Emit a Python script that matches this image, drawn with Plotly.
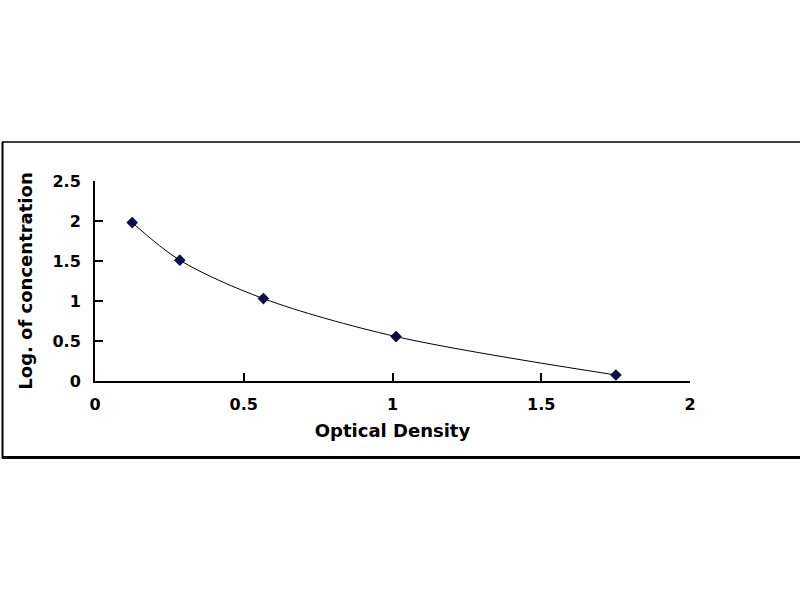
import plotly.graph_objects as go

# Data
optical_density = [0.125, 0.285, 0.566, 1.012, 1.751]
log_concentration = [1.98, 1.51, 1.03, 0.555, 0.075]

x_ticks = [0, 0.5, 1, 1.5, 2]
x_tick_labels = ["0", "0.5", "1", "1.5", "2"]
y_ticks = [0, 0.5, 1, 1.5, 2, 2.5]
y_tick_labels = ["0", "0.5", "1", "1.5", "2", "2.5"]

FONT = "DejaVu Sans, Arial, sans-serif"

fig = go.Figure()
fig.add_trace(go.Scatter(
    x=optical_density,
    y=log_concentration,
    mode="lines+markers",
    line=dict(color="black", width=1, shape="spline", smoothing=0.9),
    marker=dict(symbol="diamond", size=9, color="#0d0d4d"),
    showlegend=False,
))

# plot area: x 95..690, y 181..381 (px)
L, R, T, B = 95, 690, 181, 381
W, H = 800, 600

def px_to_paper_x(px):
    return (px - L) / (R - L)

def px_to_paper_y(py):
    return (B - py) / (B - T)

shapes = [
    # top border
    dict(type="line", xref="paper", yref="paper",
         x0=px_to_paper_x(2), x1=px_to_paper_x(800),
         y0=px_to_paper_y(142), y1=px_to_paper_y(142),
         line=dict(color="black", width=1.5)),
    # bottom border
    dict(type="line", xref="paper", yref="paper",
         x0=px_to_paper_x(2), x1=px_to_paper_x(800),
         y0=px_to_paper_y(457.5), y1=px_to_paper_y(457.5),
         line=dict(color="black", width=3)),
    # left border
    dict(type="line", xref="paper", yref="paper",
         x0=px_to_paper_x(2.5), x1=px_to_paper_x(2.5),
         y0=px_to_paper_y(142), y1=px_to_paper_y(458),
         line=dict(color="black", width=2)),
]

fig.update_layout(
    width=W, height=H,
    margin=dict(l=L, r=W - R, t=T, b=H - B, pad=0),
    paper_bgcolor="white",
    plot_bgcolor="white",
    font=dict(family=FONT, size=16, color="black"),
    shapes=shapes,
)

fig.update_xaxes(
    range=[0, 2],
    tickvals=x_ticks, ticktext=x_tick_labels,
    ticks="inside", ticklen=8, tickwidth=2, tickcolor="black",
    showline=True, linewidth=2, linecolor="black",
    showgrid=False, zeroline=False,
    tickfont=dict(family=FONT, size=16, color="black", weight="bold"),
    ticklabelstandoff=8,
    title=dict(text="<b>Optical Density</b>", font=dict(family=FONT, size=18), standoff=11),
)
fig.update_yaxes(
    range=[0, 2.5],
    tickvals=y_ticks, ticktext=y_tick_labels,
    ticks="inside", ticklen=8, tickwidth=2, tickcolor="black",
    showline=True, linewidth=2, linecolor="black",
    showgrid=False, zeroline=False,
    tickfont=dict(family=FONT, size=16, color="black", weight="bold"),
    ticklabelstandoff=9,
    title=dict(text="<b>Log. of concentration</b>", font=dict(family=FONT, size=18), standoff=15),
)

fig.write_html("out.html", config={"displayModeBar": False},
               post_script="document.body.style.margin='0';")
